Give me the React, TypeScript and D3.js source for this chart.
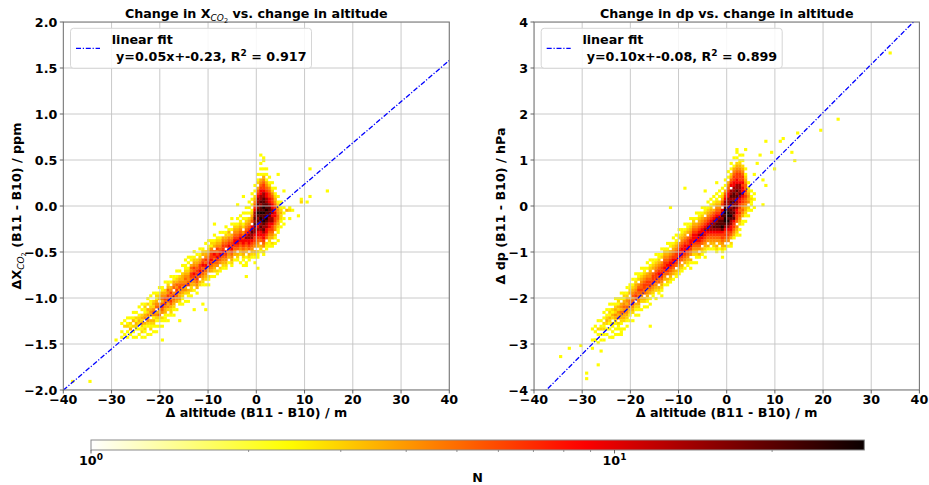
import React from "react";
import * as d3 from "d3";

// ---------------- data ----------------
const X_TICKS = [-40, -30, -20, -10, 0, 10, 20, 30, 40];
const LEFT_Y_TICKS = [-2, -1.5, -1, -0.5, 0, 0.5, 1, 1.5, 2];
const RIGHT_Y_TICKS = [-4, -3, -2, -1, 0, 1, 2, 3, 4];

// colour level code (0-9, a) -> histogram count N
const LEVEL_N = [0, 2.4, 2.9, 3.5, 4.2, 5.2, 6.5, 9, 14, 20, 28];
const N_DOMAIN = [1, 30];
const CB_MAJOR = [1, 10];
const CB_MINOR = [2, 3, 4, 5, 6, 7, 8, 9, 20];

// histogram bins: column k covers [BIN_X0 + k*BIN_DX, ... + BIN_DX]
const BIN_X0 = -28.2;
const BIN_DX = 0.6;
const LEFT_Y0 = 0.6;
const LEFT_DY = 0.03;
const RIGHT_Y0 = 1.2;
const RIGHT_DY = 0.06;

// each entry: "firstRow:levels top->bottom"
const LEFT_COLS = [
  "62:100101",
  "61:1020010",
  "60:10120101",
  "59:010213010",
  "58:1013020101",
  "57:01021321001",
  "56:100123201010",
  "55:1010232421201",
  "54:01211340312101",
  "53:10203243421001",
  "52:101123430321201",
  "51:100232454132101",
  "50:0121345034210101",
  "49:1012304543521010",
  "48:0113453565402101",
  "47:1002346564331110",
  "46:0123546653420101",
  "45:1010346546532210",
  "44:0113450465432101",
  "43:101235465543001",
  "42:010234564434210",
  "41:100233454432101",
  "39:10112345453420010",
  "38:101012344560321010",
  "37:01103546654322010",
  "36:1012346576543010",
  "36:0102345665654301",
  "35:101234667650320",
  "34:0123056756543210",
  "33:1002346576543201",
  "32:10123456765402101",
  "31:0121456676543010",
  "30:1012305765543201",
  "30:012346567654021",
  "29:1012345676540210",
  "28:010345667654321",
  "27:1012345606654321",
  "27:013245676543010",
  "26:1010345667654321",
  "25:012345677654301",
  "24:10123456776503210",
  "23:101234567765432001",
  "22:10101204567765432101",
  "20:1010123456787654301011",
  "18:10101023456788776503210",
  "15:101010123450789887654321",
  "12:10102345678898988876654032101",
  "8:10120356788989a9898787765430211",
  "4:101010345677889899a9a989877650321",
  "3:10010134566788999a9a99a989877654021",
  "6:101013456778899a99a98877650211",
  "9:10124566778999988776543211",
  "11:101245667788788766543021",
  "13:101234566776654402101",
  "16:10123445543211001",
  "18:1012322101",
  "20:1010101",
];

const RIGHT_COLS = [
  "64:1000100100",
  "62:01010010",
  "61:100201001",
  "60:0101201010",
  "58:10102120101",
  "56:010123201010",
  "55:1012132101001",
  "54:01021320210101",
  "53:101232432101010",
  "52:012132434021101",
  "51:1010343543210101",
  "50:0121345453320010",
  "49:101234354432101",
  "47:0112303554321010",
  "46:1012345456432001",
  "44:10123345650321010",
  "43:01120456554432101",
  "42:10123455654320010",
  "41:0112345665503201",
  "40:10103456654432101",
  "39:101234456654301010",
  "38:0112305666543210",
  "37:101234566654320010",
  "36:0112345676550321",
  "35:101204566765432101",
  "34:012345667654301",
  "33:1012345676650321",
  "32:01103456776543210",
  "31:1012345677654301",
  "29:01012345667650321",
  "28:10120456777654321",
  "27:011234567776503210",
  "26:10123456777654301",
  "25:011230566776543210",
  "24:1012345677765403101",
  "23:012345677765432001",
  "22:1010345677765432101",
  "21:0112345678776540310",
  "20:101234567787650321",
  "19:01120456787765432101",
  "18:1012345678876540310",
  "17:10123456788876543010",
  "16:101203567889876543210",
  "15:1012345678899876540321",
  "14:10102345678999876543010",
  "13:10123560789899a97665432101",
  "10:10103567889aa9aa9876654031",
  "7:101034567788899aa9a987665401",
  "4:1010235670889899899a98877653021",
  "2:100134566778899898989897665431",
  "0:1010234566778898988887766504321",
  "0:0101234566678889877665654320101",
  "1:10102345667677876654543011",
  "6:10123455656554332101",
  "11:1012343402101",
  "14:10121101",
  "15:101001",
];

// isolated cells: [x, y, level]
const LEFT_OUT = [
  [-38, -1.9, 1], [-34.6, -1.9, 1], [-29.1, -1.44, 1], [-3.7, 0.03, 1], [-2.7, 0.12, 1],
  [-5.2, -0.12, 1], [4.6, 0.36, 1], [11.1, 0.41, 1], [14.6, 0.17, 1], [11.1, 0.12, 1],
  [9.1, 0.08, 1], [9.4, 0.05, 2], [10.4, 0.05, 1], [6.6, -0.02, 1], [7.0, -0.06, 2],
  [8.7, -0.1, 1], [6.6, -0.13, 1], [7.7, -0.03, 1], [6.3, -0.04, 3], [0.4, -0.68, 1],
  [-2.3, -0.75, 1], [-11.3, -1.06, 1], [-13.1, -1.11, 1], [-19.6, -1.44, 1], [-16.2, -1.24, 1],
  [-10.3, -1.13, 1], [1.2, 0.53, 1], [0.6, 0.56, 1], [5.8, 0.15, 1], [-8.5, -0.2, 1],
];
const RIGHT_OUT = [
  [-34.3, -3.26, 1], [-32.5, -3.07, 1], [-30.5, -3.02, 1], [-29.1, -3.62, 1], [-29.4, -3.75, 1],
  [-26.6, -3.46, 1], [-26.3, -3.17, 1], [-27.5, -2.91, 1], [-23.9, -2.84, 1], [-21.8, -2.7, 1],
  [-15.9, -2.6, 1], [-11.4, -0.05, 1], [-4.5, 0.35, 1], [-2.4, 0.49, 1], [6.9, 1.1, 1],
  [8.3, 1.4, 1], [11.1, 1.43, 1], [11.4, 1.45, 1], [14.5, 1.58, 1], [9.3, 1.15, 1],
  [13.8, 1.0, 1], [13.5, 1.2, 1], [9.7, 0.82, 1], [7.6, 0.57, 1], [7.9, 0.45, 1],
  [7.6, 0.06, 1], [5.9, 0.71, 1], [6.5, 0.9, 1], [33.6, 3.35, 1], [23.1, 1.91, 1],
  [19.4, 1.65, 1], [3.8, 1.25, 1], [2.1, 1.22, 1], [-8.8, 0.4, 1],
];

// fit lines: [slope, intercept]
const LEFT_FIT = [0.0448, -0.21];
const RIGHT_FIT = [0.105, -0.07];
const LEFT_LEGEND = ["y=0.05x+-0.23, R", "2", " = 0.917"];
const RIGHT_LEGEND = ["y=0.10x+-0.08, R", "2", " = 0.899"];

// ---------------- styling / layout ----------------
const FONT = "'DejaVu Sans', Verdana, sans-serif";
const FS = 12.7;
const W = 929;
const H = 485;
const TOP = 22;
const BOTTOM = 390;
const LEFT_RANGE = [63.3, 449.3];
const RIGHT_RANGE = [534, 919.4];
const CB = { x0: 91, x1: 864.3, y0: 440, y1: 450 };

function hot(s: number) {
  const c = (v: number) => Math.max(0, Math.min(1, v));
  const r = s < 0.365079 ? 0.0416 + (1 - 0.0416) * (s / 0.365079) : 1;
  const g = c((s - 0.365079) / (0.746032 - 0.365079));
  const b = c((s - 0.746032) / (1 - 0.746032));
  return d3.rgb(Math.round(r * 255), Math.round(g * 255), Math.round(b * 255)).formatHex();
}
const norm = d3.scaleLog().domain(N_DOMAIN).range([0, 1]).clamp(true);
const colorOf = (n: number) => hot(1 - norm(n));

type Cell = { x0: number; ytop: number; level: number };

function buildCells(cols: string[], out: number[][], y0: number, dy: number): Cell[] {
  const cells: Cell[] = [];
  cols.forEach((s, k) => {
    const [start, lv] = s.split(":");
    const r0 = parseInt(start, 10);
    for (let i = 0; i < lv.length; i++) {
      const level = parseInt(lv[i], 36);
      if (level > 0) cells.push({ x0: BIN_X0 + k * BIN_DX, ytop: y0 - (r0 + i) * dy, level });
    }
  });
  out.forEach(([x, y, level]) => {
    const k = Math.floor((x - BIN_X0) / BIN_DX);
    const r = Math.floor((y0 - y) / dy);
    cells.push({ x0: BIN_X0 + k * BIN_DX, ytop: y0 - r * dy, level });
  });
  return cells;
}

type PanelProps = {
  id: string;
  range: number[];
  yDomain: number[];
  yTicks: number[];
  yFmt: (v: number) => string;
  cols: string[];
  out: number[][];
  y0: number;
  dy: number;
  fit: number[];
  legend: string[];
  title: React.ReactNode;
  ylabel: React.ReactNode;
  ylabelX: number;
};

function Panel(p: PanelProps) {
  const xs = d3.scaleLinear().domain([-40, 40]).range(p.range);
  const ys = d3.scaleLinear().domain(p.yDomain).range([BOTTOM, TOP]);
  const [L, R] = p.range;
  const cells = buildCells(p.cols, p.out, p.y0, p.dy);
  const cx = (L + R) / 2;
  const fitLine = d3.line<number>().x((x) => xs(x)).y((x) => ys(p.fit[0] * x + p.fit[1]));
  const dash = "5,1.8,1.2,1.8";
  return (
    <g>
      <defs>
        <clipPath id={`clip-${p.id}`}>
          <rect x={L} y={TOP} width={R - L} height={BOTTOM - TOP} />
        </clipPath>
      </defs>
      <rect x={L} y={TOP} width={R - L} height={BOTTOM - TOP} fill="#fff" />
      <g clipPath={`url(#clip-${p.id})`}>
        {cells.map((c, i) => {
          const x = xs(c.x0);
          const w = xs(c.x0 + BIN_DX) - x;
          const y = ys(c.ytop);
          const h = ys(c.ytop - p.dy) - y;
          return <rect key={i} x={x} y={y} width={w + 0.3} height={h + 0.3} fill={colorOf(LEVEL_N[c.level])} />;
        })}
        {X_TICKS.map((t) => (
          <line key={`gx${t}`} x1={xs(t)} x2={xs(t)} y1={TOP} y2={BOTTOM} stroke="#c4c4c4" strokeWidth={0.9} />
        ))}
        {p.yTicks.map((t) => (
          <line key={`gy${t}`} x1={L} x2={R} y1={ys(t)} y2={ys(t)} stroke="#c4c4c4" strokeWidth={0.9} />
        ))}
        <path d={fitLine([-40, 40]) || ""} fill="none" stroke="#0000ff" strokeWidth={1.3} strokeDasharray={dash} />
      </g>
      <rect x={L} y={TOP} width={R - L} height={BOTTOM - TOP} fill="none" stroke="#707070" strokeWidth={1} />
      {X_TICKS.map((t) => (
        <g key={`tx${t}`}>
          <line x1={xs(t)} x2={xs(t)} y1={BOTTOM} y2={BOTTOM + 3.5} stroke="#555" strokeWidth={0.9} />
          <text x={xs(t)} y={403.5} textAnchor="middle" fontSize={FS} fontWeight="bold">
            {d3.format("d")(t)}
          </text>
        </g>
      ))}
      {p.yTicks.map((t) => (
        <g key={`ty${t}`}>
          <line x1={L - 3.5} x2={L} y1={ys(t)} y2={ys(t)} stroke="#555" strokeWidth={0.9} />
          <text x={L - 6} y={ys(t)} dy="0.36em" textAnchor="end" fontSize={FS} fontWeight="bold">
            {p.yFmt(t)}
          </text>
        </g>
      ))}
      <text x={cx} y={18} textAnchor="middle" fontSize={FS} fontWeight="bold">
        {p.title}
      </text>
      <text x={cx} y={417} textAnchor="middle" fontSize={FS} fontWeight="bold">
        Δ altitude (B11 - B10) / m
      </text>
      <text transform={`translate(${p.ylabelX},206) rotate(-90)`} textAnchor="middle" fontSize={FS} fontWeight="bold">
        {p.ylabel}
      </text>
      {/* legend */}
      <rect x={L + 7.2} y={28.3} width={241} height={40} rx={3} fill="#fff" fillOpacity={0.85} stroke="#d6d6d6" strokeWidth={1} />
      <line x1={L + 12.7} x2={L + 36.7} y1={48.3} y2={48.3} stroke="#0000ff" strokeWidth={1.3} strokeDasharray={dash} />
      <text x={L + 48.4} y={43.5} fontSize={FS} fontWeight="bold">
        linear fit
      </text>
      <text x={L + 52.7} y={60.5} fontSize={FS} fontWeight="bold">
        {p.legend[0]}
        <tspan dy={-5} fontSize={9}>
          {p.legend[1]}
        </tspan>
        <tspan dy={5}>{p.legend[2]}</tspan>
      </text>
    </g>
  );
}

function Colorbar() {
  const s = d3.scaleLog().domain(N_DOMAIN).range([CB.x0, CB.x1]);
  const stops = d3.range(0, 1.0001, 0.02);
  return (
    <g>
      <defs>
        <linearGradient id="cbgrad" x1="0" x2="1" y1="0" y2="0">
          {stops.map((t) => (
            <stop key={t} offset={t} stopColor={hot(1 - t)} />
          ))}
        </linearGradient>
      </defs>
      <rect x={CB.x0} y={CB.y0} width={CB.x1 - CB.x0} height={CB.y1 - CB.y0} fill="url(#cbgrad)" stroke="#8a8a8a" strokeWidth={1} />
      {CB_MINOR.map((v) => (
        <line key={`m${v}`} x1={s(v)} x2={s(v)} y1={CB.y1} y2={CB.y1 + 2} stroke="#777" strokeWidth={0.8} />
      ))}
      {CB_MAJOR.map((v) => (
        <g key={`M${v}`}>
          <line x1={s(v)} x2={s(v)} y1={CB.y1} y2={CB.y1 + 3.5} stroke="#555" strokeWidth={0.9} />
          <text x={s(v)} y={465} textAnchor="middle" fontSize={FS} fontWeight="bold">
            10
            <tspan dy={-5} fontSize={9}>
              {String(Math.round(Math.log10(v)))}
            </tspan>
          </text>
        </g>
      ))}
      <text x={(CB.x0 + CB.x1) / 2} y={482} textAnchor="middle" fontSize={FS} fontWeight="bold">
        N
      </text>
    </g>
  );
}

export default function App() {
  const leftTitle = (
    <>
      Change in X
      <tspan fontSize={9} fontStyle="italic" fontWeight="normal" dy={3}>
        CO
      </tspan>
      <tspan fontSize={6.5} fontWeight="normal" dy={1.5}>
        2
      </tspan>
      <tspan dy={-4.5}> vs. change in altitude</tspan>
    </>
  );
  const leftYLabel = (
    <>
      ΔX
      <tspan fontSize={9} fontStyle="italic" fontWeight="normal" dy={3}>
        CO
      </tspan>
      <tspan fontSize={6.5} fontWeight="normal" dy={1.5}>
        2
      </tspan>
      <tspan dy={-4.5}> (B11 - B10) / ppm</tspan>
    </>
  );
  return (
    <svg
      width={W}
      height={H}
      viewBox={`0 0 ${W} ${H}`}
      style={{ position: "absolute", left: 0, top: 0, background: "#fff" }}
      fontFamily={FONT}
    >
      <rect x={0} y={0} width={W} height={H} fill="#fff" />
      <Panel
        id="l"
        range={LEFT_RANGE}
        yDomain={[-2, 2]}
        yTicks={LEFT_Y_TICKS}
        yFmt={d3.format(".1f")}
        cols={LEFT_COLS}
        out={LEFT_OUT}
        y0={LEFT_Y0}
        dy={LEFT_DY}
        fit={LEFT_FIT}
        legend={LEFT_LEGEND}
        title={leftTitle}
        ylabel={leftYLabel}
        ylabelX={21}
      />
      <Panel
        id="r"
        range={RIGHT_RANGE}
        yDomain={[-4, 4]}
        yTicks={RIGHT_Y_TICKS}
        yFmt={d3.format("d")}
        cols={RIGHT_COLS}
        out={RIGHT_OUT}
        y0={RIGHT_Y0}
        dy={RIGHT_DY}
        fit={RIGHT_FIT}
        legend={RIGHT_LEGEND}
        title={"Change in dp vs. change in altitude"}
        ylabel={"Δ dp (B11 - B10) / hPa"}
        ylabelX={505}
      />
      <Colorbar />
    </svg>
  );
}
